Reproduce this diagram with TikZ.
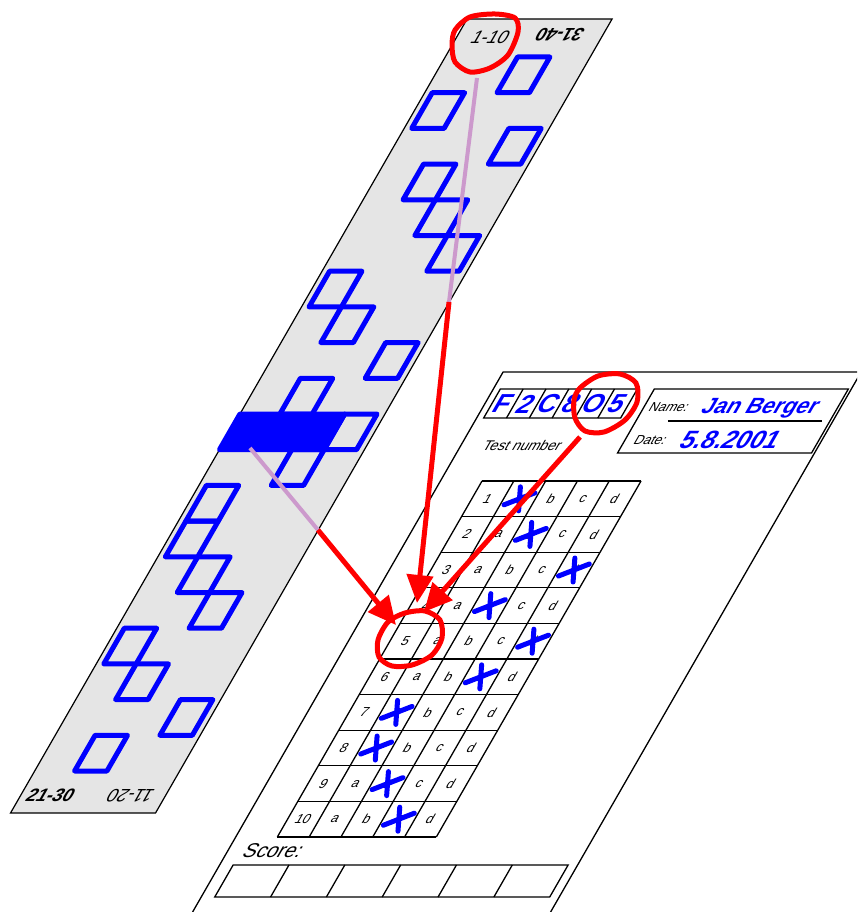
\documentclass[tikz,border=0pt]{standalone}
\usepackage{fontspec}
\setmainfont{Liberation Sans}
\usetikzlibrary{arrows.meta}
\definecolor{stripgray}{RGB}{229,229,229}
\definecolor{kblue}{RGB}{0,0,255}
\definecolor{kred}{RGB}{255,0,0}
\definecolor{kpurple}{RGB}{204,153,204}
\newcommand{\kfs}[1]{\fontsize{#1}{#1}\selectfont}
\begin{document}
\begin{tikzpicture}[x=1pt,y=-1pt,
  ans/.style={draw=kblue,line width=5pt,line join=round},
  thin/.style={draw=black,line width=1.3pt},
  lab/.style={transform shape,inner sep=0pt,font=\kfs{13}},
  xmark/.style={draw=kblue,line width=5pt,line cap=round},
  redarrow/.style={draw=kred,line width=5pt,-{Triangle[length=28pt,width=26pt]}},
  purp/.style={draw=kpurple,line width=4pt},
  ring/.style={draw=kred,line width=5pt}]
\useasboundingbox (0,0) rectangle (857,912);
\clip (0,0) rectangle (857,912);
% ---------------- strip ----------------
\begin{scope}[xslant=0.575]
  \draw[line width=1.2pt,fill=stripgray] (478,19) rectangle (623,813);
  \foreach \r/\c in {0/3,1/1,2/4,3/2,4/3,5/4,6/1,7/2,8/4,9/2,11/3,12/1,13/1,14/2,15/3,16/1,17/2,18/4,19/2}{
    \draw[ans] ({485.5+32.4*(\c-1)},{57+35.7*\r}) rectangle ({517.9+32.4*(\c-1)},{92.7+35.7*\r});
  }
  \filldraw[ans,fill=kblue] (478,414) rectangle (582.7,449.7);
  \draw[ans] (582.7,414) rectangle (615.1,449.7);
  \node[transform shape,font=\kfs{18}] (lab110) at (512,37) {1-10};
  \node[transform shape,rotate=180,font=\kfs{18}\bfseries] (lab3140) at (580,35) {31-40};
  \node[transform shape,font=\kfs{18}\bfseries] (lab2130) at (508,795) {21-30};
  \node[transform shape,rotate=180,font=\kfs{18}] (lab1120) at (588,796) {11-20};
\end{scope}
% ---------------- answer sheet ----------------
\begin{scope}[xslant=0.575]
  \draw[thin,fill=white] (717,372) rectangle (1075,1000);
  % test number
  \draw[thin] (724,389) rectangle (861,418);
  \foreach \i in {1,...,5}{\draw[thin] ({724+22.83*\i},389) -- ({724+22.83*\i},418);}
  \foreach \ch [count=\i from 0] in {F,2,C,8,O,5}{
    \node[transform shape,inner sep=0pt,text=kblue,font=\kfs{26}\bfseries] (tn\i) at ({724+22.83*(\i+0.5)},404) {\ch};
  }
  \node[transform shape,anchor=west,inner sep=0pt,font=\kfs{14}] (testnum) at (740,445) {Test number};
  % name / date
  \draw[thin] (878,389) rectangle (1072,453);
  \node[transform shape,anchor=west,inner sep=0pt,font=\kfs{13}] (namel) at (884,407) {Name:};
  \node[transform shape,anchor=west,inner sep=0pt,text=kblue,font=\kfs{22}\bfseries] (name) at (937,408) {Jan Berger};
  \draw[thin] (910,421) -- (1064,421);
  \node[transform shape,anchor=west,inner sep=0pt,font=\kfs{13}] (datel) at (888,440) {Date:};
  \node[transform shape,anchor=west,inner sep=0pt,text=kblue,font=\kfs{25}\bfseries] (date) at (935,440) {5.8.2001};
  % grid
  \foreach \r in {0,...,10}{\draw[thin] (758.6,{481+35.6*\r}) -- (917.6,{481+35.6*\r});}
  \foreach \c in {0,...,5}{\draw[thin] ({758.6+31.8*\c},481) -- ({758.6+31.8*\c},837);}
  \foreach \r in {1,...,10}{
    \node[lab] at ({758.6+15.9},{481+35.6*(\r-0.5)}) {\r};
    \foreach \l [count=\c] in {a,b,c,d}{
      \node[lab] at ({758.6+31.8*(\c+0.5)},{481+35.6*(\r-0.5)}) {\l};
    }
  }
  \foreach \r/\c in {1/1,2/2,3/4,4/2,5/4,6/3,7/1,8/1,9/2,10/3}{
    \pgfmathsetmacro\cx{758.6+31.8*(\c+0.5)}
    \pgfmathsetmacro\cy{481+35.6*(\r-0.5)}
    \draw[xmark] ({\cx-12},{\cy+6}) -- ({\cx+12},{\cy-6}) ({\cx-6},{\cy-12}) -- ({\cx+6},{\cy+12});
  }
  % score
  \node[transform shape,anchor=west,inner sep=0pt,font=\kfs{20}] (score) at (734,851) {Score:};
  \draw[thin] (730.5,865) rectangle (1065.5,897);
  \foreach \i in {1,...,5}{\draw[thin] ({730.5+55.83*\i},865) -- ({730.5+55.83*\i},897);}
\end{scope}
% ---------------- overlays ----------------
\coordinate (p1a) at (477,78);
\coordinate (p1b) at (449,302);
\coordinate (t1) at (417,603);
\coordinate (p2a) at (250,448);
\coordinate (p2b) at (318,530);
\coordinate (t2) at (396,625);
\coordinate (s3) at (580,437);
\coordinate (t3) at (424,612);
\draw[purp] (p1a) -- (p1b);
\draw[purp] (p2a) -- (p2b);
\draw[redarrow] (p1b) -- (t1);
\draw[redarrow] (p2b) -- (t2);
\draw[redarrow] (s3) -- (t3);
\draw[ring] plot[smooth cycle] coordinates {(455,30) (470,17) (495,14) (515,18) (518,32) (508,55) (490,68) (470,72) (455,62) (452,45)};
\draw[ring] plot[smooth cycle] coordinates {(580,388) (598,376) (620,374) (636,383) (637,402) (625,420) (604,432) (585,431) (575,418) (574,400)};
\draw[ring] plot[smooth cycle] coordinates {(378,640) (388,622) (405,613) (425,611) (440,620) (442,638) (432,655) (412,665) (392,666) (379,657)};
\end{tikzpicture}
\end{document}
